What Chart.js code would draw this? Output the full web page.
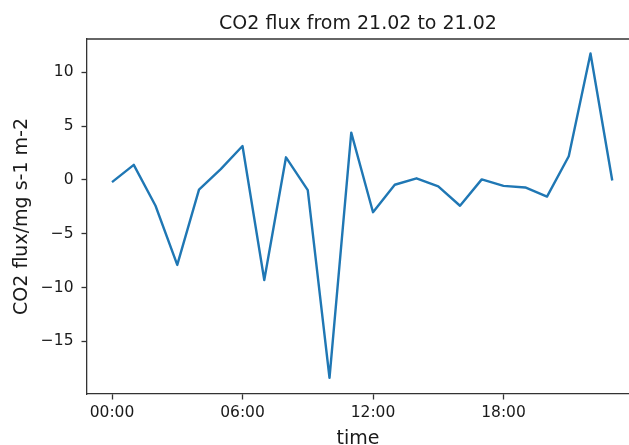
<!DOCTYPE html>
<html><head><meta charset="utf-8">
<script src="https://cdn.jsdelivr.net/npm/chart.js@4/dist/chart.umd.min.js"></script>
<style>html,body{margin:0;padding:0;background:#fff;overflow:hidden}#wrap{width:629px;height:445px;position:relative}</style>
</head><body><div id="wrap"><canvas id="c" width="629" height="445"></canvas></div>
<script>
const hours = [0,1,2,3,4,5,6,7,8,9,10,11,12,13,14,15,16,17,18,19,20,21,22,23];
const flux = [-0.2, 1.4, -2.4, -7.9, -0.9, 1.0, 3.15, -9.3, 2.1, -0.95, -18.4, 4.4, -3.0, -0.45, 0.15, -0.6, -2.4, 0.05, -0.55, -0.7, -1.55, 2.2, 11.75, -0.05];
const tickHours = [0, 6, 12, 18];
const tickLabels = ['00:00', '06:00', '12:00', '18:00'];
const yTickValues = [-15, -10, -5, 0, 5, 10];
const titleText = 'CO2 flux from 21.02 to 21.02';
const xTitle = 'time';
const yTitle = 'CO2 flux/mg s-1 m-2';

const FONT = 'DejaVu Sans';
const SPINE = '#333333';
const TXT = '#1a1a1a';

const topSpine = {
  id: 'topSpine',
  afterDraw(chart) {
    const {ctx, chartArea} = chart;
    ctx.save();
    ctx.strokeStyle = SPINE;
    ctx.lineWidth = 1.3;
    ctx.beginPath();
    ctx.moveTo(chartArea.left - 0.65, chartArea.top);
    ctx.lineTo(chart.width, chartArea.top);
    ctx.stroke();
    ctx.restore();
  }
};

new Chart(document.getElementById('c'), {
  type: 'line',
  data: {
    datasets: [{
      data: hours.map((h, i) => ({x: h, y: flux[i]})),
      borderColor: '#1f77b4',
      borderWidth: 2.4,
      borderJoinStyle: 'round',
      borderCapStyle: 'butt',
      pointRadius: 0,
      tension: 0,
      fill: false
    }]
  },
  options: {
    responsive: false,
    animation: false,
    devicePixelRatio: 1,
    layout: {padding: {top: 0, left: 0, right: 0, bottom: 0}},
    plugins: {
      legend: {display: false},
      tooltip: {enabled: false},
      title: {
        display: true,
        text: titleText,
        fullSize: false,
        color: TXT,
        font: {family: FONT, size: 19, weight: 'normal', lineHeight: 1.2},
        padding: {top: 12.3, bottom: 3.9}
      }
    },
    scales: {
      x: {
        type: 'linear',
        min: -1.15,
        max: 23.77,
        afterFit(s) { s.height = 51; },
        afterBuildTicks(s) { s.ticks = tickHours.map(v => ({value: v})); },
        ticks: {
          color: TXT,
          font: {family: FONT, size: 15.5},
          padding: 4,
          maxRotation: 0,
          autoSkip: false,
          callback: (v) => tickLabels[tickHours.indexOf(v)]
        },
        grid: {drawOnChartArea: false, drawTicks: true, tickLength: 5.5, tickColor: SPINE, tickWidth: 1.3},
        border: {display: true, color: SPINE, width: 1.3},
        title: {
          display: true, text: xTitle, color: TXT,
          font: {family: FONT, size: 19, lineHeight: 0.66},
          padding: {top: 0, bottom: 0}
        }
      },
      y: {
        type: 'linear',
        min: -19.9,
        max: 13.1,
        afterFit(s) { s.width = 87; },
        afterBuildTicks(s) { s.ticks = yTickValues.map(v => ({value: v})); },
        ticks: {
          color: TXT,
          font: {family: FONT, size: 15.5},
          padding: 8,
          callback: (v) => v < 0 ? '\u2212' + Math.abs(v) : String(v)
        },
        grid: {drawOnChartArea: false, drawTicks: true, tickLength: 5.5, tickColor: SPINE, tickWidth: 1.3},
        border: {display: true, color: SPINE, width: 1.3},
        title: {
          display: true, text: yTitle, color: TXT,
          font: {family: FONT, size: 19, lineHeight: 1.2},
          padding: {top: 11, bottom: 0}
        }
      }
    }
  },
  plugins: [topSpine]
});
</script>
</body></html>
